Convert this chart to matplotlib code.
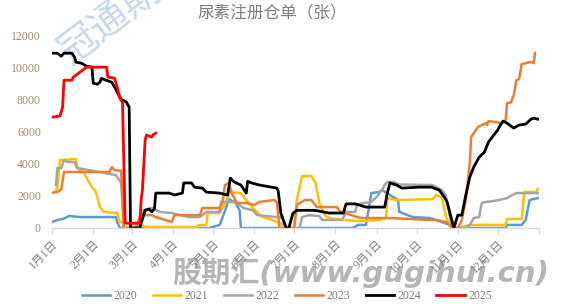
import matplotlib
matplotlib.use("Agg")
import matplotlib.pyplot as plt
import matplotlib.dates as mdates
import pandas as pd

# Registered urea warehouse receipts by calendar day (MM-DD), one series per year
dates_2020 = ["01-01","01-05","01-09","01-14","01-22","02-18","02-19","02-21","04-28","05-06","05-07","05-11","05-13","05-18","05-21","05-22","08-14","08-18","08-24","08-28","09-03","09-05","09-11","09-17","09-18","09-28","10-11","10-20","10-26","10-28","12-07","12-08","12-19","12-22","12-25","12-31"]
stock_2020 = [370,500,560,750,680,680,370,0,0,190,400,1300,1800,1550,1100,0,0,190,190,2170,2240,2360,2050,1740,1000,680,620,370,190,0,0,190,190,500,1740,1860]

dates_2021 = ["01-04","01-05","01-07","01-19","01-20","01-25","01-28","01-31","02-03","02-06","02-09","02-19","02-21","02-26","03-07","03-12","04-18","04-21","04-26","04-27","05-06","05-11","05-13","05-22","05-26","05-31","06-07","06-15","06-22","06-25","07-01","07-03","07-07","07-14","07-17","07-20","07-24","07-27","08-06","08-21","09-03","09-08","09-09","09-16","10-13","10-16","10-20","10-22","10-24","10-28","11-04","11-10","12-07","12-08","12-19","12-21","12-30","12-31"]
stock_2021 = [2360,2500,4220,4290,3730,3420,2980,2550,2240,1300,1000,930,370,300,190,60,60,190,190,930,930,1620,2240,2170,1740,1240,680,500,250,0,0,1740,3230,3230,2800,1550,800,620,500,430,500,620,1860,1740,1800,2050,1900,1100,500,0,60,190,190,560,560,2240,2240,2420]

dates_2022 = ["01-04","01-05","01-08","01-10","01-13","01-18","01-20","02-06","02-18","02-22","02-24","03-05","03-09","03-16","03-22","03-31","04-13","04-21","04-26","05-06","05-07","05-15","05-19","05-24","05-31","06-03","06-18","06-22","06-25","07-05","07-07","07-12","07-20","07-22","08-06","08-09","08-16","08-17","08-22","08-28","09-01","09-05","09-07","09-09","09-14","09-18","09-22","10-13","10-20","10-23","10-26","10-28","11-07","11-10","11-13","11-17","11-19","11-22","11-28","12-02","12-08","12-12","12-15","12-31"]
stock_2022 = [2670,3730,3730,4220,4100,4100,3730,3480,3290,2800,0,0,1100,1240,1000,930,680,680,1000,1000,1620,1620,1550,1240,1100,800,680,620,0,0,680,800,740,500,500,1000,1000,1430,1550,1620,1930,2360,2670,2860,2860,2700,2700,2670,2360,2050,680,0,0,190,620,680,1550,1620,1680,1740,1860,2050,2170,2170]

dates_2023 = ["01-01","01-05","01-08","01-10","02-13","02-15","02-17","02-22","02-24","03-04","03-07","03-09","03-16","03-19","03-29","03-31","04-02","04-21","04-23","05-06","05-08","05-10","05-13","05-15","05-19","05-27","06-01","06-05","06-16","06-18","06-20","07-01","07-03","07-09","07-14","07-18","08-02","08-05","08-20","09-11","10-11","10-16","10-23","10-28","11-01","11-04","11-07","11-10","11-11","11-16","11-19","11-22","11-23","11-24","11-30","12-04","12-07","12-08","12-11","12-13","12-15","12-17","12-19","12-22","12-25","12-27","12-28","12-29"]
stock_2023 = [2200,2240,2400,3480,3480,3780,3600,3550,0,0,680,800,800,680,430,370,800,800,1240,1240,1550,2670,2800,2170,1550,1550,1430,1620,1740,1620,0,0,1430,1740,1740,1300,1300,1000,620,620,500,500,370,0,0,500,1740,4040,5650,6270,6400,6520,6400,6650,6580,6520,6710,7760,7820,8260,9190,9250,10180,10250,10310,10310,10250,10870]

dates_2024 = ["01-01","01-05","01-08","01-10","01-16","01-18","01-19","01-23","01-27","01-31","02-01","02-04","02-06","02-07","02-11","02-15","02-18","02-19","02-22","02-26","02-28","02-29","03-07","03-08","03-11","03-14","03-16","03-18","03-19","03-29","04-02","04-08","04-09","04-15","04-17","04-23","04-26","05-06","05-12","05-14","05-17","05-22","05-26","05-27","05-30","06-05","06-18","06-19","06-21","06-25","06-27","06-30","07-03","07-16","07-20","07-27","08-07","08-09","08-16","08-24","09-07","09-09","09-11","09-16","09-20","10-03","10-12","10-18","10-22","10-24","10-29","11-01","11-04","11-07","11-10","11-13","11-17","11-21","11-24","11-28","12-01","12-02","12-05","12-08","12-13","12-17","12-22","12-26","12-28","12-31"]
stock_2024 = [10870,10870,10680,10870,10870,10620,10310,10250,10060,10000,9000,8940,9060,9300,9180,9060,8620,8450,8000,7820,7500,0,0,300,1100,1180,1000,1200,2170,2170,2050,2170,2800,2800,2540,2480,2230,2170,2050,3100,2860,2670,2170,2900,2800,2670,2480,2300,930,0,0,900,1100,1100,1050,930,930,1500,1500,1300,1300,2170,2800,2670,2480,2540,2540,2360,1900,1600,0,800,800,2050,3170,3800,4400,4720,5340,5780,6090,6270,6650,6520,6210,6400,6460,6770,6830,6770]

dates_2025 = ["01-01","01-07","01-09","01-10","01-16","01-17","01-19","01-22","01-24","01-27","02-11","02-12","02-17","02-19","02-21","02-23","02-25","03-07","03-08","03-09","03-11","03-12","03-16","03-17","03-19"]
stock_2025 = [6890,6960,7520,9190,9190,9380,9500,9690,9810,10000,10000,9380,9320,8760,8070,7820,300,300,1740,2400,5470,5780,5650,5800,5900]

years = ["2020", "2021", "2022", "2023", "2024", "2025"]
series_dates = [dates_2020, dates_2021, dates_2022, dates_2023, dates_2024, dates_2025]
series_stock = [stock_2020, stock_2021, stock_2022, stock_2023, stock_2024, stock_2025]
colors = ["#5B9BD5", "#FFC000", "#A5A5A5", "#ED7D31", "#000000", "#FF0000"]
widths = [1.8, 1.8, 1.8, 1.8, 2.0, 2.0]

month_labels = [f"{m}月1日" for m in range(1, 13)]
y_ticks = [0, 2000, 4000, 6000, 8000, 10000, 12000]

CJK = ["Liberation Serif", "Noto Sans CJK SC"]

fig = plt.figure(figsize=(5.70, 3.07), dpi=100)
ax = fig.add_axes([52 / 570, 1 - 228 / 307, (539 - 52) / 570, (228 - 35) / 307])
ax.set_facecolor("none")

def on_common_year(ds):
    # place every year on one leap-year calendar so they overlay by day
    return pd.to_datetime(["2024-" + d for d in ds])

for yr, ds, vs, c, lw in zip(years, series_dates, series_stock, colors, widths):
    ax.plot(on_common_year(ds), vs, color=c, lw=lw, label=yr, solid_joinstyle="round")

start = pd.Timestamp("2024-01-01")
end = pd.Timestamp("2025-01-01")
ax.set_xlim(start, end)
ax.set_ylim(0, 12000)

tick_pos = list(pd.date_range(start, end, freq="MS"))
ax.set_xticks(tick_pos)
ax.set_xticklabels(month_labels + [""], rotation=45, ha="right", va="top",
                   rotation_mode="anchor", fontsize=8.5, color="#7f7f7f",
                   family=CJK)
ax.tick_params(axis="x", length=4, width=0.8, color="#d9d9d9", pad=3)

ax.set_yticks(y_ticks)
ax.set_yticklabels([str(v) for v in y_ticks], fontsize=8.5, color="#a08c70",
                   family="Liberation Serif")
ax.tick_params(axis="y", length=0, pad=8)

for side in ("left", "right", "top"):
    ax.spines[side].set_visible(False)
ax.spines["bottom"].set_color("#d9d9d9")
ax.spines["bottom"].set_linewidth(1.0)

fig.text(0.478, 1 - 13 / 307, "尿素注册仓单（张）", ha="center", va="center",
         fontsize=12, color="#7f7f7f", family=["Noto Sans CJK SC"])

# watermarks
fig.text(126 / 570, 1 - 10 / 307, "冠通期货", ha="center", va="center",
         rotation=37, fontsize=28, color="#c8d8ec", family=["Noto Sans CJK SC"],
         zorder=-1)
fig.text(361 / 570, 1 - 273 / 307, "股期汇(www.gugihui.cn)", ha="center",
         va="center", fontsize=21, color="#b5b5b5", fontweight="bold",
         style="italic", family=["DejaVu Sans", "Noto Sans CJK SC"], zorder=-1)

leg = fig.legend(loc="center", bbox_to_anchor=(287 / 570, 1 - 296 / 307), ncol=6,
                 frameon=False, fontsize=8.5, handlelength=2.4, handletextpad=0.3,
                 columnspacing=1.3, prop={"family": "Liberation Serif", "size": 8.5})
for t in leg.get_texts():
    t.set_color("#7f7f7f")

fig.savefig("out.png", dpi=100)
